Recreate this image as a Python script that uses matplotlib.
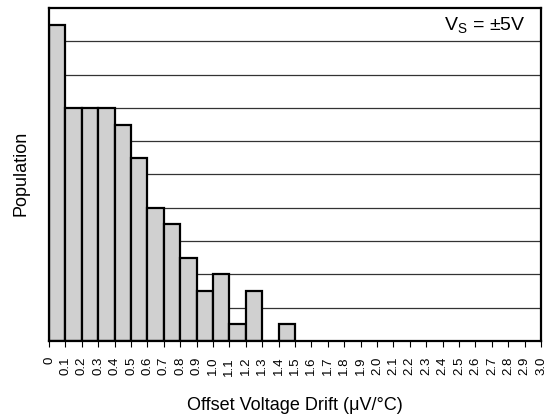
import matplotlib
matplotlib.use("Agg")
import matplotlib.pyplot as plt

plt.rcParams["font.family"] = ["Liberation Sans", "DejaVu Sans"]

# histogram bins (left edge, µV/°C) and relative population
bin_left = [0.0, 0.1, 0.2, 0.3, 0.4, 0.5, 0.6, 0.7, 0.8, 0.9, 1.0, 1.1, 1.2, 1.3, 1.4]
population = [9.5, 7.0, 7.0, 7.0, 6.5, 5.5, 4.0, 3.5, 2.5, 1.5, 2.0, 0.5, 1.5, 0.0, 0.5]
tick_values = [round(0.1 * i, 1) for i in range(31)]
tick_labels = ["0"] + [f"{v:.1f}" for v in tick_values[1:]]

fig = plt.figure(figsize=(5.55, 4.17), dpi=100)
ax = fig.add_axes([0.0883, 0.1823, 0.8865, 0.7986])

for y in range(1, 10):
    ax.axhline(y, color="#333333", linewidth=0.9, zorder=1)

ax.bar(
    bin_left,
    population,
    width=0.1,
    align="edge",
    color="#d0d0d0",
    edgecolor="black",
    linewidth=1.6,
    zorder=2,
)

ax.set_xlim(0, 3.0)
ax.set_ylim(0, 10)
ax.set_xticks(tick_values)
ax.set_xticklabels(tick_labels, rotation=90, fontsize=9.5, va="top")
ax.tick_params(axis="x", direction="out", length=4.5, width=0.8, pad=7)
ax.set_yticks([])
for spine in ax.spines.values():
    spine.set_linewidth(1.6)
    spine.set_zorder(3)

ax.text(2.905, 9.5, r"$\mathregular{V_S}$ = ±5V", ha="right", va="center", fontsize=14)
fig.text(294.5 / 555, 1 - 406 / 417, "Offset Voltage Drift (μV/°C)",
         ha="center", va="center", fontsize=13)
fig.text(21 / 555, 1 - 173.5 / 417, "Population",
         ha="center", va="center", rotation=90, fontsize=13)

fig.savefig("out.png", dpi=100)
